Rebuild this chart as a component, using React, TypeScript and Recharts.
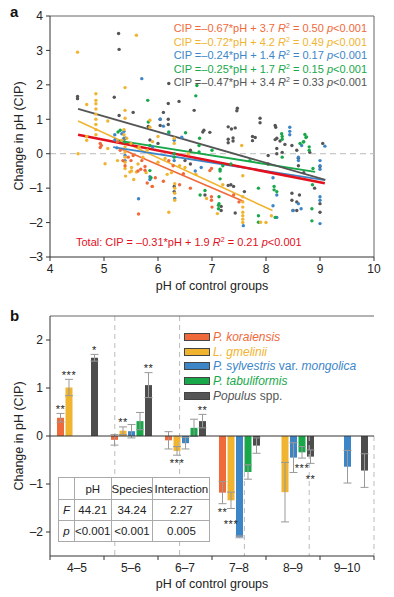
import React from 'react';
import { ComposedChart, Scatter, Line, XAxis, YAxis, ReferenceLine, BarChart, Bar, ErrorBar, LabelList } from 'recharts';

const FONT = '"Liberation Sans", Arial, Helvetica, sans-serif';
const COL = { kor: '#f0693a', gme: '#f0b430', syl: '#3c86c8', tab: '#18a84a', pop: '#555555', total: '#e3101e' };
const AXIS = '#333';

// ---- panel a: scatter points [pH, CIP]
const korPts = [
  [4.93, 0.3], [4.93, 0.18], [4.95, 0.24], [5.64, -1.75], [5.8, -0.85], [5.89, -0.95], [5.76, -0.37], [5.76, -0.48],
  [5.54, -0.05], [5.35, -0.2], [5.39, -0.35], [5.5, -0.2], [5.63, -0.5], [5.68, -0.45], [6.96, -0.49], [6.99, -1.25],
  [6.99, -1.35], [6.47, -0.58], [6.28, -0.35], [6.99, -0.43], [7.0, -1.55], [5.3, 0.1], [5.45, -0.1], [5.25, 0.35],
  [5.95, -0.7], [6.1, -0.8], [6.4, -0.9], [6.6, -1.0], [7.4, -1.2], [7.5, -1.4], [6.2, -0.2], [5.7, -0.2],
];
const gmePts = [
  [4.51, 2.95], [5.6, 3.44], [5.39, 1.92], [4.85, 1.74], [4.68, 1.43], [4.85, 1.55], [4.85, 1.45], [4.85, 1.3],
  [4.85, 1.15], [4.85, 1.0], [4.85, 0.85], [4.85, 0.7], [4.85, 0.55], [5.07, 0.95], [5.39, 1.26], [5.39, 1.03],
  [5.85, 0.97], [5.85, 0.77], [5.37, 0.7], [5.37, 0.55], [5.42, 0.45], [4.52, 0.0], [4.68, 0.39], [4.68, 0.5],
  [5.02, -0.29], [5.07, 0.15], [5.39, 0.2], [5.39, 0.05], [5.39, -0.1], [5.39, -0.25], [5.39, -0.43], [5.51, -0.4],
  [5.51, -0.5], [5.6, -0.53], [5.63, -0.3], [5.72, -0.1], [5.78, -0.55], [5.48, -0.53], [5.4, -0.65], [5.33, 0.39],
  [5.5, 0.3], [5.65, 0.2], [5.8, 0.1], [6.0, -0.25], [6.13, -0.14], [6.17, -0.6], [6.31, -0.87], [6.31, -1.0],
  [6.31, -1.15], [6.31, -1.35], [6.2, -1.7], [6.4, -0.35], [6.56, 0.0], [6.3, 0.45], [6.3, 0.3], [6.0, 0.5],
  [5.9, 0.35], [6.5, -0.4], [6.7, -0.6], [7.57, -0.64], [7.57, -1.25], [7.57, -1.4], [7.57, -1.55], [7.57, -1.7],
  [7.57, -1.8], [7.57, -1.9], [7.57, -2.0], [7.55, 0.24], [7.9, -1.99], [8.0, -2.0], [8.1, -1.8], [7.1, -1.74],
  [7.2, -0.9], [6.9, -1.3], [5.25, -0.2], [5.55, -0.75], [5.9, -0.95], [6.25, -0.55],
];
const sylPts = [
  [5.7, 2.18], [5.33, 0.58], [5.37, 0.65], [5.37, 0.45], [6.04, 1.0], [6.44, 0.48], [6.3, 0.39], [8.44, 0.77],
  [8.44, 0.65], [9.09, 0.22], [5.2, 0.55], [5.2, 0.4], [5.35, 0.39], [5.24, 0.17], [5.39, -0.05], [5.39, -0.2],
  [5.85, -0.67], [5.85, -0.75], [5.64, -1.31], [6.31, -1.3], [8.44, 0.55], [8.66, 0.24], [8.6, -0.1], [8.6, -0.2],
  [9.0, -0.2], [9.0, -0.35], [9.0, -0.45], [8.13, -1.51], [8.6, -1.45], [8.5, -1.65], [9.0, -1.25], [9.0, -1.35],
  [9.0, -2.03], [7.58, -2.09], [8.13, -0.7], [6.69, -0.5], [6.8, -0.4], [6.1, 0.8], [6.2, 0.6], [5.9, 0.2],
  [6.3, -0.2], [8.2, -1.2], [8.65, -1.6], [8.2, -1.85],
];
const tabPts = [
  [5.81, 1.55], [6.72, 1.98], [6.7, 1.68], [6.51, 0.61], [6.77, 0.45], [5.3, 0.68], [8.3, 0.5], [8.3, 0.42],
  [8.63, 0.3], [8.7, 0.35], [8.72, 0.56], [8.74, 0.47], [5.82, 0.92], [6.2, 0.63], [5.26, 0.63], [5.38, 0.34],
  [5.85, 0.24], [6.3, -0.1], [6.3, 0.0], [5.85, -0.49], [5.87, -0.7], [6.76, 0.24], [6.76, 0.05], [7.15, -0.45],
  [7.15, -0.5], [7.15, -0.73], [7.13, -1.25], [7.13, -1.45], [7.86, -1.0], [8.15, -0.95], [8.15, -1.05], [8.2, -1.1],
  [8.29, 0.58], [8.69, 0.34], [8.75, 0.49], [8.8, 0.2], [8.8, 0.1], [8.87, -0.43], [8.86, -0.9], [8.85, -1.6],
  [8.85, -1.95], [8.3, -0.1], [7.86, -1.99], [6.87, -1.07], [6.78, -1.2], [7.12, -1.5], [7.12, -1.6], [7.2, -0.35],
  [7.35, -0.3], [7.86, -1.8], [8.17, -1.85], [7.7, -0.2], [7.0, 0.1],
];
const popPts = [
  [5.27, 3.49], [5.28, 3.03], [4.51, 1.66], [4.51, 1.6], [5.19, 1.64], [5.28, 1.11], [5.54, 1.2], [6.2, 2.04],
  [6.39, 1.52], [6.67, 1.26], [6.85, 0.68], [6.96, 0.62], [6.19, 1.46], [6.1, 1.2], [6.04, 1.0], [6.04, 0.82],
  [6.19, 1.0], [6.19, 0.85], [5.82, 0.79], [7.47, 1.32], [7.46, 1.25], [7.3, 0.78], [7.36, 0.72], [7.3, 0.42],
  [7.3, 0.32], [7.89, 1.03], [7.89, 0.9], [7.75, 0.5], [7.75, 0.38], [8.18, 0.77], [8.2, 0.45], [8.26, 0.37],
  [8.35, 0.27], [5.4, 0.45], [5.5, 0.3], [6.83, 0.63], [7.43, 0.75], [7.39, 0.46], [7.39, 0.37], [7.8, 0.47],
  [8.17, 0.41], [8.17, 0.82], [8.2, 0.15], [8.2, 0.0], [8.04, -0.05], [8.04, -0.3], [8.3, 0.04], [8.48, 0.24],
  [8.57, 0.1], [8.6, -0.13], [8.6, -0.35], [8.81, 0.04], [9.0, -0.37], [7.3, -0.92], [7.35, -0.9], [7.4, -0.95],
  [7.17, -1.53], [7.17, -1.65], [7.43, -1.72], [8.48, -1.15], [8.48, -1.35], [8.57, -1.4], [8.62, -1.2], [8.5, -1.65],
  [8.57, -1.65], [9.0, -1.7], [7.6, -1.1], [6.87, -1.2], [6.3, -0.95], [6.3, -1.1], [6.6, -0.3], [6.5, -0.2],
  [6.0, 0.3], [5.85, 0.4], [6.6, 0.1], [9.0, -1.45], [8.9, -1.0], [8.7, -0.55], [9.05, 0.3],
];

// fitted lines, end points
const korFit = [[5.3, 0.15], [7.58, -1.38]];
const gmeFit = [[4.52, 0.95], [8.12, -1.65]];
const sylFit = [[5.17, 0.19], [9.09, -0.77]];
const tabFit = [[5.27, 0.38], [8.91, -0.53]];
const popFit = [[4.52, 1.3], [9.1, -0.76]];
const totalFit = [[4.52, 0.55], [9.09, -0.86]];

const X_TICKS_A = [4, 5, 6, 7, 8, 9, 10];
const Y_TICKS_A = [-3, -2, -1, 0, 1, 2, 3, 4];

const equations = [
  { color: COL.kor, slope: '–0.67', icpt: '3.7', r2: '0.50' },
  { color: COL.gme, slope: '–0.72', icpt: '4.2', r2: '0.49' },
  { color: COL.syl, slope: '–0.24', icpt: '1.4', r2: '0.17' },
  { color: COL.tab, slope: '–0.25', icpt: '1.7', r2: '0.15' },
  { color: COL.pop, slope: '–0.47', icpt: '3.4', r2: '0.33' },
];

// ---- panel b: group means
const GROUPS = ['4–5', '5–6', '6–7', '7–8', '8–9', '9–10'];
const korMean = [0.38, -0.08, -0.09, -1.18, null, null];
const korErr = [0.09, 0.11, 0.18, 0.23, null, null];
const gmeMean = [1.01, 0.11, -0.31, -1.34, -1.17, null];
const gmeErr = [0.17, 0.08, 0.09, 0.17, 0.62, null];
const sylMean = [null, 0.1, -0.15, -2.1, -0.45, -0.64];
const sylErr = [null, 0.14, 0.12, 0.02, 0.31, 0.34];
const tabMean = [null, 0.31, 0.17, -0.75, -0.34, null];
const tabErr = [null, 0.18, 0.18, 0.15, 0.12, null];
const popMean = [1.63, 1.06, 0.31, -0.2, -0.43, -0.72];
const popErr = [0.07, 0.26, 0.14, 0.16, 0.14, 0.35];

const korStars = ['**', '', '', '**', '', ''];
const gmeStars = ['***', '**', '***', '***', '', ''];
const sylStars = ['', '', '', '', '', ''];
const tabStars = ['', '', '', '***', '**', ''];
const popStars = ['*', '**', '**', '', '**', ''];

const Y_TICKS_B = [-2, -1, 0, 1, 2];

const anova = [
  ['', 'pH', 'Species', 'Interaction'],
  ['F', '44.21', '34.24', '2.27'],
  ['p', '<0.001', '<0.001', '0.005'],
];

const toXY = (pts: number[][]) => pts.map(([x, y]) => ({ x, y }));
const barData = GROUPS.map((g, i) => ({
  g,
  kor: korMean[i], korE: korErr[i],
  gme: gmeMean[i], gmeE: gmeErr[i],
  syl: sylMean[i], sylE: sylErr[i],
  tab: tabMean[i], tabE: tabErr[i],
  pop: popMean[i], popE: popErr[i],
}));

const W = 394;
const PLOT_L = 50;
const PLOT_R = 20;
const BAND = (W - PLOT_L - PLOT_R) / GROUPS.length;

const minus = (v: number) => (v < 0 ? '–' + Math.abs(v) : String(v));
const tickStyle = { fontSize: 12, fill: '#222', fontFamily: FONT };

const dot = (color: string) => (p: any) => <circle cx={p.cx} cy={p.cy} r={1.7} fill={color} />;

// significance stars; a star below a bar is pushed down when the neighbouring bar on its left has one too
const starLabel = (stars: string[], errs: (number | null)[], prevStars?: string[]) => (p: any) => {
  const { x, y, width, height, value, index } = p;
  const s = stars[index];
  if (!s || value == null || !height) return null;
  const top = Math.min(y, y + height);
  const bot = Math.max(y, y + height);
  const k = Math.abs(height / value);
  const e = errs[index] ?? 0;
  const zero = value >= 0 ? bot : top;
  const push = prevStars && prevStars[index] ? 8 : 0;
  const ty = value >= 0 ? zero - (value + e) * k - 0.5 : zero - (value - e) * k + 12 + push;
  return (
    <text x={x + width / 2} y={ty} textAnchor="middle" fontSize={11} fill="#222" fontFamily={FONT} letterSpacing={0.5}>
      {s}
    </text>
  );
};

const GroupTick = (p: any) => {
  const { x, y, payload, index } = p;
  const axisY = y - 7;
  return (
    <g>
      <line x1={x - BAND / 2} x2={x - BAND / 2} y1={axisY} y2={axisY + 4} stroke={AXIS} />
      {index === GROUPS.length - 1 && <line x1={x + BAND / 2} x2={x + BAND / 2} y1={axisY} y2={axisY + 4} stroke={AXIS} />}
      <text x={x} y={y} dy="0.71em" textAnchor="middle" {...tickStyle}>{payload.value}</text>
    </g>
  );
};

const legendItems = [
  { color: COL.kor, parts: [['P. koraiensis', true]] },
  { color: COL.gme, parts: [['L. gmelinii', true]] },
  { color: COL.syl, parts: [['P. sylvestris', true], [' var. ', false], ['mongolica', true]] },
  { color: COL.tab, parts: [['P. tabuliformis', true]] },
  { color: COL.pop, parts: [['Populus', true], [' spp.', false]] },
];

export default function App() {
  const sep = [1, 2, 3, 4, 5];
  return (
    <div style={{ position: 'absolute', left: 0, top: 0, width: W, height: 597, background: '#fff', fontFamily: FONT }}>
      {/* panel a */}
      <div style={{ position: 'absolute', left: 0, top: 0 }}>
        <ComposedChart width={W} height={300} margin={{ top: 16, right: PLOT_R, bottom: 11, left: 0 }}>
          <XAxis dataKey="x" type="number" domain={[4, 10]} ticks={X_TICKS_A} allowDataOverflow height={32}
            stroke={AXIS} tickSize={4} tickMargin={3} tick={tickStyle} />
          <YAxis dataKey="y" type="number" domain={[-3, 4]} ticks={Y_TICKS_A} allowDataOverflow width={PLOT_L}
            stroke={AXIS} tickSize={4} tickMargin={3} tick={tickStyle} tickFormatter={minus} />
          <ReferenceLine y={4} stroke="#666" />
          <ReferenceLine x={10} stroke="#666" />
          <ReferenceLine y={0} stroke="#bbb" strokeDasharray="6 4" />
          <Scatter data={toXY(popPts)} dataKey="y" shape={dot(COL.pop)} isAnimationActive={false} />
          <Scatter data={toXY(sylPts)} dataKey="y" shape={dot(COL.syl)} isAnimationActive={false} />
          <Scatter data={toXY(tabPts)} dataKey="y" shape={dot(COL.tab)} isAnimationActive={false} />
          <Scatter data={toXY(gmePts)} dataKey="y" shape={dot(COL.gme)} isAnimationActive={false} />
          <Scatter data={toXY(korPts)} dataKey="y" shape={dot(COL.kor)} isAnimationActive={false} />
          <Line data={toXY(korFit)} dataKey="y" stroke={COL.kor} strokeWidth={1.6} dot={false} isAnimationActive={false} />
          <Line data={toXY(gmeFit)} dataKey="y" stroke={COL.gme} strokeWidth={1.6} dot={false} isAnimationActive={false} />
          <Line data={toXY(sylFit)} dataKey="y" stroke={COL.syl} strokeWidth={1.8} dot={false} isAnimationActive={false} />
          <Line data={toXY(tabFit)} dataKey="y" stroke={COL.tab} strokeWidth={1.8} dot={false} isAnimationActive={false} />
          <Line data={toXY(popFit)} dataKey="y" stroke={COL.pop} strokeWidth={1.8} dot={false} isAnimationActive={false} />
          <Line data={toXY(totalFit)} dataKey="y" stroke={COL.total} strokeWidth={2.6} dot={false} isAnimationActive={false} />
        </ComposedChart>
      </div>

      {/* panel b */}
      <div style={{ position: 'absolute', left: 0, top: 300 }}>
        <BarChart width={W} height={297} data={barData} margin={{ top: 16, right: PLOT_R, bottom: 9, left: 0 }}
          barSize={7} barGap={1.5}>
          <XAxis dataKey="g" height={32} stroke={AXIS} tickLine={false} tickSize={4} tickMargin={3} tick={<GroupTick />} interval={0} />
          <XAxis xAxisId="sep" type="number" domain={[0, 6]} allowDataOverflow hide />
          <YAxis type="number" domain={[-2.5, 2.5]} ticks={Y_TICKS_B} allowDataOverflow width={PLOT_L}
            stroke={AXIS} tickSize={4} tickMargin={3} tick={tickStyle} tickFormatter={minus} />
          {sep.map((s) => (
            <ReferenceLine key={s} xAxisId="sep" stroke="#bbb" strokeDasharray="5 4"
              segment={[{ x: s, y: s <= 2 ? 2.5 : 0 }, { x: s, y: -2.5 }]} />
          ))}
          <ReferenceLine xAxisId="sep" x={6} stroke="#666" />
          <ReferenceLine y={2.5} stroke="#666" />
          <Bar dataKey="kor" fill={COL.kor} isAnimationActive={false}>
            <ErrorBar dataKey="korE" width={4} stroke="#999" strokeWidth={1} />
            <LabelList dataKey="kor" content={starLabel(korStars, korErr)} />
          </Bar>
          <Bar dataKey="gme" fill={COL.gme} isAnimationActive={false}>
            <ErrorBar dataKey="gmeE" width={4} stroke="#999" strokeWidth={1} />
            <LabelList dataKey="gme" content={starLabel(gmeStars, gmeErr, korStars)} />
          </Bar>
          <Bar dataKey="syl" fill={COL.syl} isAnimationActive={false}>
            <ErrorBar dataKey="sylE" width={4} stroke="#999" strokeWidth={1} />
            <LabelList dataKey="syl" content={starLabel(sylStars, sylErr, gmeStars)} />
          </Bar>
          <Bar dataKey="tab" fill={COL.tab} isAnimationActive={false}>
            <ErrorBar dataKey="tabE" width={4} stroke="#999" strokeWidth={1} />
            <LabelList dataKey="tab" content={starLabel(tabStars, tabErr, sylStars)} />
          </Bar>
          <Bar dataKey="pop" fill="#4d4d4d" isAnimationActive={false}>
            <ErrorBar dataKey="popE" width={4} stroke="#999" strokeWidth={1} />
            <LabelList dataKey="pop" content={starLabel(popStars, popErr, tabStars)} />
          </Bar>
          <ReferenceLine y={0} stroke={AXIS} />
        </BarChart>
      </div>

      {/* titles and annotations */}
      <svg width={W} height={597} style={{ position: 'absolute', left: 0, top: 0, pointerEvents: 'none' }} fontFamily={FONT}>
        <text x={10} y={17} fontSize={15} fontWeight="bold" fill="#111">a</text>
        <text x={10} y={321} fontSize={15} fontWeight="bold" fill="#111">b</text>
        <text transform="translate(23,136) rotate(-90)" textAnchor="middle" fontSize={12.5} fill="#222">Change in pH (CIP)</text>
        <text transform="translate(23,436) rotate(-90)" textAnchor="middle" fontSize={12.5} fill="#222">Change in pH (CIP)</text>
        <text x={212} y={290} textAnchor="middle" fontSize={12.5} fill="#222">pH of control groups</text>
        <text x={212} y={588} textAnchor="middle" fontSize={12.5} fill="#222">pH of control groups</text>
        {equations.map((e, i) => (
          <text key={i} x={367} y={32 + i * 13.6} textAnchor="end" fontSize={11} fill={e.color}>
            {'CIP =' + e.slope + '*pH + ' + e.icpt + ' '}
            <tspan fontStyle="italic">R</tspan>
            <tspan fontSize={7} dy={-4}>2</tspan>
            <tspan dy={4}>{' = ' + e.r2 + ' '}</tspan>
            <tspan fontStyle="italic">p</tspan>
            <tspan>{'<0.001'}</tspan>
          </text>
        ))}
        <text x={76} y={246} fontSize={11} fill={COL.total}>
          {'Total: CIP = –0.31*pH + 1.9 '}
          <tspan fontStyle="italic">R</tspan>
          <tspan fontSize={7} dy={-4}>2</tspan>
          <tspan dy={4}>{' = 0.21 '}</tspan>
          <tspan fontStyle="italic">p</tspan>
          <tspan>{'<0.001'}</tspan>
        </text>
      </svg>

      {/* legend of panel b */}
      <div style={{ position: 'absolute', left: 184, top: 330 }}>
        {legendItems.map((it, i) => (
          <div key={i} style={{ display: 'flex', alignItems: 'center', height: 14.6 }}>
            <div style={{ width: 24, height: 6, background: it.color, border: '1px solid #444', marginRight: 3 }} />
            <span style={{ fontSize: 12, color: it.color, whiteSpace: 'nowrap' }}>
              {it.parts.map(([t, it2], j) => (
                <span key={j} style={{ fontStyle: it2 ? 'italic' : 'normal' }}>{t as string}</span>
              ))}
            </span>
          </div>
        ))}
      </div>

      {/* anova table */}
      <table style={{ position: 'absolute', left: 58, top: 477, borderCollapse: 'collapse', background: '#fff', fontSize: 11.5, color: '#222' }}>
        <tbody>
          {anova.map((row, r) => (
            <tr key={r} style={{ height: r === 0 ? 22 : 21 }}>
              {row.map((c, j) => (
                <td key={j} style={{
                  border: '1px solid #aaa', padding: 0, textAlign: 'center',
                  width: [15, 32, 40, 56][j], fontStyle: j === 0 ? 'italic' : 'normal',
                }}>{c}</td>
              ))}
            </tr>
          ))}
        </tbody>
      </table>
    </div>
  );
}
